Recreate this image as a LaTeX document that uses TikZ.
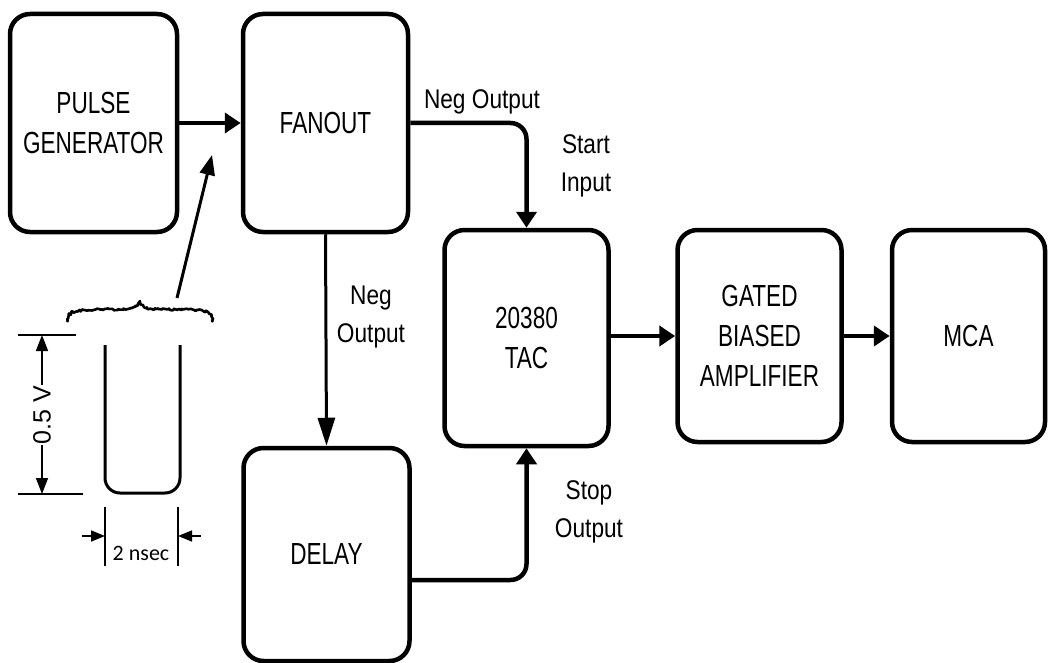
\documentclass[tikz,border=0pt]{standalone}
\usepackage{fontspec}
\newfontfamily\boxfont{Liberation Sans}[FakeStretch=0.74]
\newfontfamily\labfont{Liberation Sans}[FakeStretch=0.84]
\newfontfamily\dimfont{Liberation Sans}
\newfontfamily\nsfont{Carlito}
\usetikzlibrary{arrows.meta,decorations.pathmorphing}
\begin{document}
\begin{tikzpicture}[x=1pt,y=-1pt,
  blk/.style={draw, line width=4.5pt, rounded corners=20pt, align=center, inner sep=0pt,
    font=\boxfont\fontsize{30.5}{40}\selectfont},
  lab/.style={align=center, inner sep=0pt, font=\labfont\fontsize{27}{38}\selectfont},
  arr/.style={line width=4.5pt, -{Triangle[length=16pt,width=20pt]}},
  thinarr/.style={line width=3pt, -{Triangle[length=28pt,width=17pt]}},
  dimline/.style={line width=1.6pt},
  dimarr/.style={line width=1.6pt, -{Triangle[length=14pt,width=11pt]}}]
\useasboundingbox (0,0) rectangle (1048,663);

% blocks
\node[blk, minimum width=167pt, minimum height=218pt] (PG) at (93.5,123) {PULSE\\GENERATOR};
\node[blk, minimum width=165pt, minimum height=218pt] (FAN) at (325.5,123) {FANOUT};
\node[blk, minimum width=164pt, minimum height=216pt] (TAC) at (526.5,338) {20380\\TAC};
\node[blk, minimum width=164pt, minimum height=212pt] (GBA) at (759.5,336) {GATED\\BIASED\\AMPLIFIER};
\node[blk, minimum width=153pt, minimum height=212pt] (MCA) at (968.5,336) {MCA};
\node[blk, minimum width=166pt, minimum height=213pt] (DEL) at (326.5,554.5) {DELAY};

% connectors
\draw[arr] (PG) -- (FAN);
\draw[arr, rounded corners=16pt] (FAN.east) -| (TAC.north);
\draw[thinarr] (FAN.south) -- (DEL.north);
\coordinate (dly) at (0,580);
\draw[arr, rounded corners=16pt] (DEL.east |- dly) -| (TAC.south);
\draw[arr] (TAC.east |- GBA.west) -- (GBA.west);
\draw[arr] (GBA) -- (MCA);

% labels
\node[lab] (l1) at (482,102) {Neg Output};
\node[lab] (l2) at (586,166) {Start\\Input};
\node[lab] (l3) at (371,317) {Neg\\Output};
\node[lab] (l4) at (589,512) {Stop\\Output};

% pulse waveform
\draw[line width=2.6pt, line join=round,
  decorate, decoration={random steps, segment length=1.5pt, amplitude=1.1pt}]
  (67,322) .. controls (68,312) and (74,311) .. (84,310)
  -- (128,309) .. controls (136,308) and (138,305) .. (140,301)
  .. controls (142,305) and (144,308) .. (152,309)
  -- (198,310) .. controls (208,311) and (212,314) .. (213,322);
\coordinate (btail) at (177,298);
\coordinate (btip) at (212,155);
\draw[line width=3pt, -{Triangle[length=20pt,width=15pt]}] (btail) -- (btip);
\draw[line width=3pt, rounded corners=15pt] (105,345) -- (105,493) -- (180,493) -- (180,345);

% vertical dimension
\draw[dimline] (18,335) -- (76,335);
\draw[dimline] (18,494) -- (83,494);
\coordinate (vt) at (42,335);
\coordinate (vb) at (42,494);
\draw[line width=1.6pt, {Triangle[length=16pt,width=12pt]}-{Triangle[length=16pt,width=12pt]}] (vt) -- (vb);
\node[rotate=90, fill=white, inner xsep=1pt, inner ysep=0pt, font=\dimfont\fontsize{25}{25}\selectfont] (vlab) at (42,415) {0.5 V};

% horizontal dimension
\draw[dimline] (105,507) -- (105,566);
\draw[dimline] (178,507) -- (178,566);
\coordinate (ha) at (82,536);
\coordinate (hb) at (105,536);
\coordinate (hc) at (201,536);
\coordinate (hd) at (178,536);
\draw[dimarr] (ha) -- (hb);
\draw[dimarr] (hc) -- (hd);
\node[font=\nsfont\fontsize{22}{22}\selectfont, inner sep=0pt] (ns) at (141,553) {2 nsec};
\end{tikzpicture}
\end{document}
